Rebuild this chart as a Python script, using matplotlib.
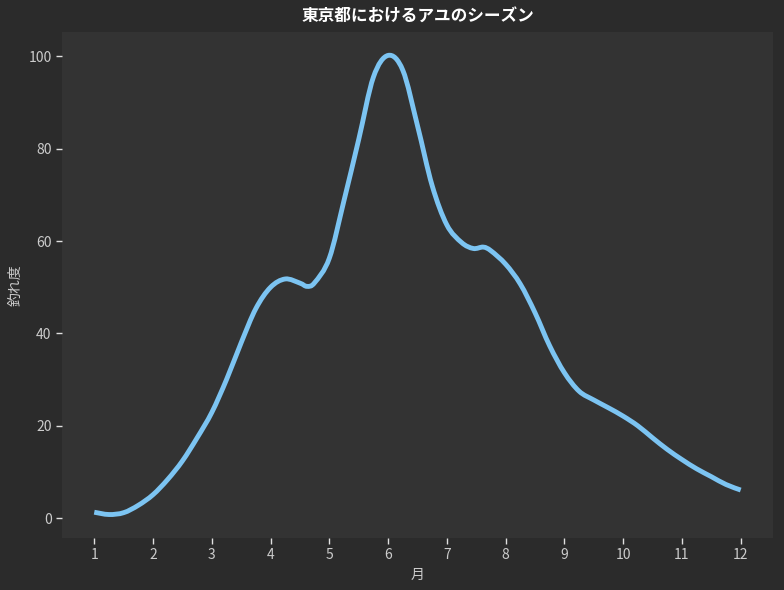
import matplotlib
matplotlib.use("Agg")
import matplotlib.pyplot as plt
import numpy as np
from matplotlib.patches import PathPatch
from matplotlib.path import Path

plt.rcParams["font.family"] = ["Noto Sans CJK JP", "DejaVu Sans"]

TITLE = "東京都におけるアユのシーズン"
X_LABEL = "月"
Y_LABEL = "釣れ度"
MONTH_TICKS = list(range(1, 13))

# curve, about every quarter month
months = [
    1.0, 1.25, 1.5, 1.75, 2.0, 2.25, 2.5, 2.75,
    3.0, 3.25, 3.5, 3.75, 4.0, 4.25, 4.5, 4.62, 4.75,
    5.0, 5.25, 5.5, 5.75, 6.0, 6.25, 6.5, 6.75,
    7.0, 7.25, 7.45, 7.62, 7.75, 8.0, 8.25, 8.5, 8.75,
    9.0, 9.25, 9.5, 9.75, 10.0, 10.25, 10.5, 10.75,
    11.0, 11.25, 11.5, 11.75, 12.0,
]
catch_index = [
    1.3, 0.8, 1.2, 2.8, 5.1, 8.4, 12.4, 17.4,
    22.9, 30.0, 38.0, 45.4, 50.0, 51.8, 50.9, 50.2, 51.0,
    56.3, 68.8, 82.0, 95.5, 100.2, 97.0, 85.0, 72.0,
    63.5, 59.7, 58.4, 58.7, 57.9, 55.0, 50.7, 44.5, 37.3,
    31.5, 27.5, 25.6, 23.9, 22.1, 20.0, 17.4, 14.9,
    12.7, 10.7, 9.0, 7.3, 6.1,
]


def smooth_path(xs, ys) -> Path:
    # Catmull-Rom through the read points, drawn as cubic Bezier segments
    pts = np.column_stack([xs, ys])
    ext = np.vstack([pts[0], pts, pts[-1]])
    verts = [pts[0]]
    codes = [Path.MOVETO]
    for i in range(1, len(ext) - 2):
        p0, p1, p2, p3 = ext[i - 1], ext[i], ext[i + 1], ext[i + 2]
        verts += [p1 + (p2 - p0) / 6, p2 - (p3 - p1) / 6, p2]
        codes += [Path.CURVE4] * 3
    return Path(verts, codes)


def main() -> None:
    fig = plt.figure(figsize=(7.84, 5.90), dpi=100, facecolor="#2b2b2b")
    ax = fig.add_axes([0.079, 0.088, 0.907, 0.858], facecolor="#333333")

    curve = PathPatch(smooth_path(months, catch_index), fill=False,
                      edgecolor="#7cc4f2", linewidth=3.5,
                      capstyle="butt", joinstyle="round")
    ax.add_patch(curve)

    ax.set_xticks(MONTH_TICKS)
    ax.set_xlim(0.45, 12.55)
    ax.set_ylim(-4.3, 105.3)
    ax.set_yticks([0, 20, 40, 60, 80, 100])

    for side in ax.spines.values():
        side.set_visible(False)
    ax.tick_params(colors="#e0e0e0", labelcolor="#cccccc", labelsize=10,
                   length=4, width=1)

    ax.set_title(TITLE, color="white", fontsize=12, fontweight="bold", pad=7)
    ax.set_xlabel(X_LABEL, color="#cccccc", fontsize=10)
    ax.set_ylabel(Y_LABEL, color="#cccccc", fontsize=10)

    fig.savefig("out.png", dpi=100, facecolor=fig.get_facecolor())
    plt.close(fig)


if __name__ == "__main__":
    main()
